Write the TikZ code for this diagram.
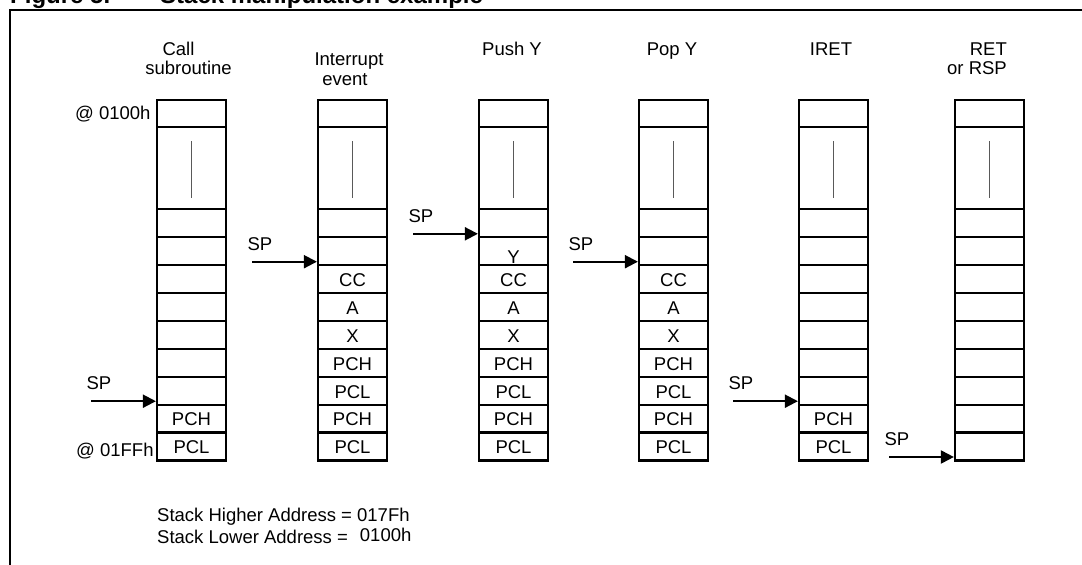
\documentclass[tikz,border=0pt]{standalone}
\usepackage{fontspec}
\setmainfont{Liberation Sans}
\usetikzlibrary{arrows.meta}
\usetikzlibrary{positioning}

\tikzset{
    cell/.style={draw, line width=2.2pt, minimum width=69pt, minimum height=27.9pt, inner sep=0pt},
    txt/.style={inner sep=0pt, font=\fontsize{18.5}{21}\selectfont},
    celltxt/.style={txt, yshift=-1pt},
    sparrow/.style={-{Triangle[length=13pt,width=13pt]}, line width=2pt},
    bar/.style={line width=1.6pt, black!65},
}

\begin{document}
\begin{tikzpicture}[x=1pt,y=-1pt]
        \useasboundingbox (0,0) rectangle (1082,565);

        % Title, cut off by the page
        \node[anchor=base west, inner sep=0pt, font=\fontsize{24}{28}\selectfont\bfseries] (fig) at (10,3) {Figure 5.};
        \node[anchor=base west, inner sep=0pt, font=\fontsize{24}{28}\selectfont\bfseries] (title) at (160,3) {Stack manipulation example};

        % Frame
        \draw[line width=1.8pt] (1082,10) -- (10,10) -- (10,565);

        % Stacks
        \foreach \c/\x in {1/157,2/318,3/479,4/639,5/799,6/955} {
            \node[cell, minimum height=27pt] (t\c) at (\x+34.5,113.5) {};
            \node[cell, minimum height=82.3pt] (b\c) at (\x+34.5,168.15) {};
            \draw[bar] ([yshift=27pt]b\c.center) -- ([yshift=-30pt]b\c.center);
            \foreach \r in {0,...,8}
                \node[cell] (c\c-\r) at (\x+34.5,223.25+27.9*\r) {};
        }

        % Contents
        \foreach \c in {2,3,4}
            \foreach \t [count=\r from 2] in {CC,A,X,PCH,PCL,PCH,PCL}
                \node[celltxt] (v\c-\r) at (c\c-\r) {\t};
        \foreach \c in {1,5} {
            \node[celltxt] (v\c-7) at (c\c-7) {PCH};
            \node[celltxt] (v\c-8) at (c\c-8) {PCL};
        }
        \node[celltxt, yshift=-5pt] (v3-1) at (c3-1) {Y};

        % Stack pointer
        \foreach \c/\r in {1/6,2/1,3/0,4/1,5/6,6/8} {
            \coordinate (a\c) at ([xshift=-64.5pt,yshift=4.5pt]c\c-\r.south west);
            \node[txt, anchor=base west] (sp\c) at ([xshift=-5pt,yshift=11.5pt]a\c) {SP};
            \draw[sparrow] (a\c) -- (a\c -| c\c-\r.west);
        }

        % Headers
        \node[txt, anchor=base] (h1a) at (178.5,55) {Call};
        \node[txt, anchor=base] (h1b) at (188.5,74) {subroutine};
        \node[txt, anchor=base] (h2a) at (349,65) {Interrupt};
        \node[txt, anchor=base] (h2b) at (345,85) {event};
        \node[txt, anchor=base] (h3) at (512,55) {Push Y};
        \node[txt, anchor=base] (h4) at (672,55) {Pop Y};
        \node[txt, anchor=base] (h5) at (831,55) {IRET};
        \node[txt, anchor=base east] (h6a) at (1007,55) {RET};
        \node[txt, anchor=base east] (h6b) at (1007,74) {or RSP};

        % Addresses
        \node[txt, anchor=base west] (top) at (75,119) {@ 0100h};
        \node[txt, anchor=base west] (bot) at (76,456.5) {@ 01FFh};
        \node[txt, anchor=base west] (hi) at (157,521) {Stack Higher Address = 017Fh};
        \node[txt, anchor=base west] (lo) at (157,543) {Stack Lower Address =\hspace{12pt}\raisebox{2pt}{0100h}};
    \end{tikzpicture}
\end{document}
